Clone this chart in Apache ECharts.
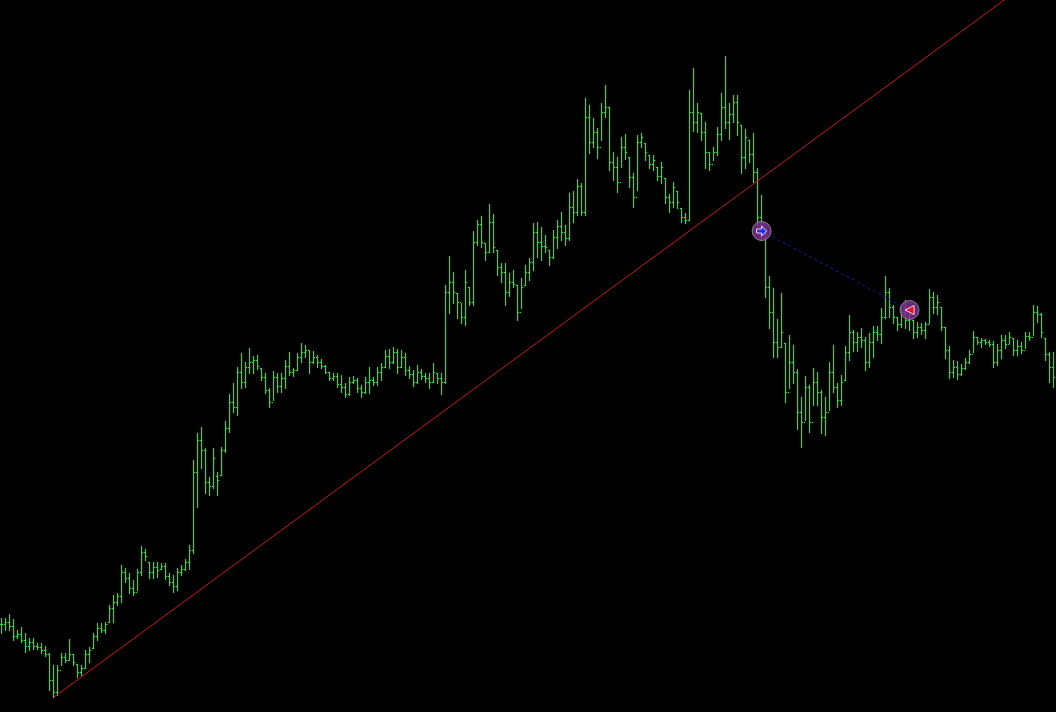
<!DOCTYPE html>
<html><head><meta charset="utf-8">
<script src="https://cdn.jsdelivr.net/npm/echarts@6/dist/echarts.min.js"></script>
<style>html,body{margin:0;padding:0;background:#000;}#c{width:1056px;height:712px;}</style>
</head><body><div id="c"></div>
<script>
const highs = [94,94,98,93,82,85,79,74,74,69,69,66,59,47,47,59,59,73,58,48,47,62,65,79,89,89,90,107,117,119,147,144,139,132,143,166,163,150,150,150,149,149,139,137,144,147,153,167,252,279,285,264,235,264,240,265,291,318,329,345,359,350,364,356,357,344,339,324,341,339,339,352,360,344,359,369,367,362,361,357,353,347,340,339,339,337,329,335,336,334,327,335,345,335,345,349,362,363,365,363,362,359,346,342,347,343,339,339,349,339,339,427,456,440,419,409,442,425,481,492,496,469,508,498,462,449,449,439,442,427,434,447,454,489,490,485,477,462,482,492,500,487,519,521,533,529,614,607,594,584,609,627,605,560,555,575,578,555,539,577,579,569,557,557,545,550,534,518,530,521,504,499,622,644,609,599,590,560,565,585,619,656,609,617,617,587,583,572,579,544,517,482,436,424,393,419,369,377,367,343,315,336,327,344,340,322,315,350,367,329,337,366,397,382,380,384,375,379,386,386,404,436,424,407,395,407,412,403,392,390,389,390,423,420,417,405,385,366,352,351,348,354,362,381,375,374,373,372,371,368,377,377,380,374,372,370,380,380,407,406,399,374,360,360];
const lows = [79,82,82,72,74,70,60,62,63,63,59,56,22,15,17,47,50,52,47,35,37,44,50,64,72,80,79,90,90,107,110,130,119,117,122,137,152,134,134,135,143,133,127,120,122,137,142,143,159,205,244,219,217,224,217,237,260,280,300,297,324,325,339,339,343,332,319,305,312,320,320,324,337,336,342,350,355,339,349,345,344,339,332,332,325,320,315,317,329,320,315,319,319,327,327,332,345,344,349,339,345,337,334,326,329,333,330,324,330,329,318,329,399,409,394,389,387,407,407,467,465,452,460,460,437,430,407,416,425,392,404,427,432,442,455,452,460,447,454,464,472,467,472,490,497,497,497,559,565,554,572,595,542,532,520,545,553,525,505,522,565,552,544,542,532,529,509,500,505,504,490,489,492,581,580,572,544,542,552,557,572,584,573,590,577,539,544,550,530,487,472,415,384,355,355,365,310,324,329,283,265,292,280,307,307,279,277,302,320,305,307,332,352,361,361,365,342,345,355,372,369,394,395,389,382,385,384,382,374,375,378,374,389,399,398,382,354,334,335,333,337,343,349,360,368,365,368,366,345,347,354,364,369,357,357,359,364,372,377,390,375,352,330,325];
const opens = [88,88,90,86,76,78,72,66,70,66,65,62,58,32,20,42,55,52,58,48,40,44,58,64,76,84,82,90,104,110,116,140,134,124,120,140,160,150,140,145,143,146,136,130,126,140,143,150,162,240,272,262,230,226,236,237,262,284,310,305,340,330,345,350,352,344,335,322,310,335,326,334,346,340,342,355,360,362,350,355,350,346,340,334,336,328,325,318,330,332,324,320,330,332,330,340,345,356,350,360,345,355,342,338,330,340,336,334,330,339,334,330,420,430,419,410,395,425,410,470,488,469,460,490,462,445,440,420,430,427,400,427,440,450,480,470,466,462,455,475,486,480,474,505,500,526,500,595,570,580,565,600,605,550,545,530,565,555,535,515,570,569,557,548,545,536,534,515,510,521,504,495,492,600,590,599,580,560,548,560,578,605,590,598,610,587,555,572,558,540,495,480,425,400,370,365,369,320,350,340,300,290,325,290,330,320,295,300,340,325,312,332,360,380,370,375,372,350,370,380,378,395,420,405,395,388,400,392,392,380,385,382,388,415,405,405,385,362,340,345,338,344,350,358,375,370,372,370,368,350,362,372,368,374,362,366,362,376,375,400,398,374,358,345];
const closes = [88,90,86,76,78,72,66,70,66,65,62,58,32,20,42,55,52,58,50,40,44,58,62,76,84,82,88,104,110,116,140,134,124,120,140,160,156,140,145,142,146,136,130,126,140,143,150,162,240,272,262,230,226,254,232,262,284,310,305,340,330,345,350,352,346,335,322,310,335,326,334,346,340,342,355,360,362,350,355,350,346,340,334,336,328,325,318,330,332,324,320,330,332,330,340,345,356,350,360,345,355,342,338,330,340,336,334,330,340,334,330,420,430,420,410,395,430,410,470,488,470,460,490,465,445,440,420,430,428,400,425,440,450,480,470,466,465,455,475,486,480,474,505,500,526,500,595,570,580,565,600,605,550,545,530,565,560,535,515,570,575,560,548,552,536,545,515,510,525,510,495,492,600,590,600,580,560,548,560,578,605,590,598,610,590,555,575,558,540,495,480,425,400,370,365,380,320,350,340,300,290,325,290,330,320,295,300,340,325,312,330,360,380,370,375,372,350,370,380,378,395,420,405,395,388,400,392,398,380,385,382,388,415,405,410,385,362,340,345,338,344,350,358,375,370,372,370,368,350,362,372,368,375,362,366,362,376,375,400,398,380,358,345,335];
const categories = highs.map((_, i) => String(i));
const trendLine = [[13, 15], [251, 713]];
const tradeOpen = [190, 481];
const tradeClose = [227, 402];

const barData = highs.map((h, i) => [i, opens[i], h, lows[i], closes[i]]);

const chart = echarts.init(document.getElementById('c'), null, {renderer: 'canvas'});
chart.setOption({
  backgroundColor: '#000000',
  animation: false,
  grid: {left: -0.5, right: 0.5, top: 0, bottom: 0, containLabel: false},
  xAxis: {type: 'category', data: categories, boundaryGap: true, show: false},
  yAxis: {type: 'value', min: 0, max: 712, show: false},
  series: [
    {
      type: 'custom',
      data: barData,
      encode: {x: 0, y: [1, 2, 3, 4]},
      renderItem: function (params, api) {
        const i = api.value(0);
        const pH = api.coord([i, api.value(2)]);
        const pL = api.coord([i, api.value(3)]);
        const pO = api.coord([i, api.value(1)]);
        const pC = api.coord([i, api.value(4)]);
        const cx = Math.floor(pH[0]);
        const yH = Math.round(pH[1]);
        const yL = Math.round(pL[1]);
        const yO = Math.round(pO[1]);
        const yC = Math.round(pC[1]);
        const st = {fill: '#3ad83a', shadowBlur: 2, shadowColor: 'rgba(40,200,40,0.7)'};
        return {
          type: 'group',
          children: [
            {type: 'rect', shape: {x: cx, y: yH, width: 1, height: Math.max(1, yL - yH + 1)}, style: st},
            {type: 'rect', shape: {x: cx - 1, y: yO, width: 1, height: 1}, style: st},
            {type: 'rect', shape: {x: cx + 1, y: yC, width: 1, height: 1}, style: st}
          ]
        };
      },
      z: 2
    },
    {
      type: 'line',
      data: trendLine,
      symbol: 'none',
      lineStyle: {color: '#c41e1e', width: 1},
      z: 3
    },
    {
      type: 'line',
      data: [tradeOpen, tradeClose],
      symbol: 'none',
      lineStyle: {color: '#1a1aa8', width: 1, type: [3, 3]},
      z: 4
    },
    {
      type: 'scatter',
      data: [tradeOpen, tradeClose],
      symbol: 'circle',
      symbolSize: 19,
      itemStyle: {color: '#7e2e8e', borderColor: '#8f8f8f', borderWidth: 1, opacity: 0.85},
      z: 5
    },
    {
      type: 'scatter',
      data: [tradeOpen],
      symbol: 'path://M0,3 L5,3 L5,0 L10,5 L5,10 L5,7 L0,7 Z',
      symbolSize: [10, 10],
      itemStyle: {color: '#1030ff', borderColor: '#ffffff', borderWidth: 1},
      z: 6
    },
    {
      type: 'scatter',
      data: [tradeClose],
      symbol: 'triangle',
      symbolSize: [9, 9],
      symbolRotate: 90,
      itemStyle: {color: '#ff1010', borderColor: '#ffffff', borderWidth: 1},
      z: 6
    }
  ]
});
</script>
</body></html>
